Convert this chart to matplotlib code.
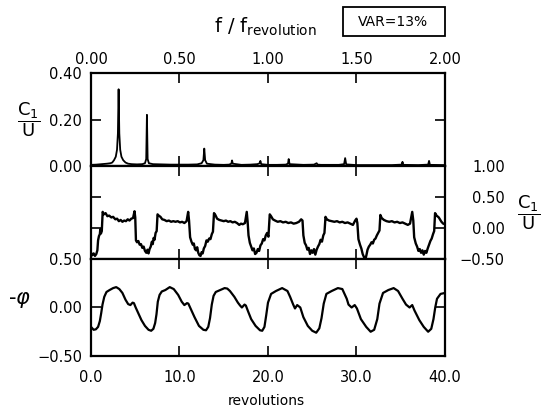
import matplotlib
matplotlib.use("Agg")
import matplotlib.pyplot as plt
from matplotlib.ticker import FixedLocator, FuncFormatter
from matplotlib.patches import Rectangle

# ---------------- data ----------------
# spectrum of C1/U versus f/f_revolution
spec_f = [0.00, 0.03, 0.06, 0.09, 0.11, 0.12, 0.13, 0.14, 0.147, 0.152, 0.156,
          0.160, 0.165, 0.172, 0.182, 0.195, 0.21, 0.23, 0.26, 0.29, 0.305, 0.312,
          0.316, 0.320, 0.327, 0.35, 0.40, 0.45, 0.50, 0.55, 0.60, 0.625, 0.635,
          0.640, 0.645, 0.655, 0.70, 0.75, 0.78, 0.793, 0.797, 0.801, 0.85, 0.90,
          0.94, 0.953, 0.957, 0.962, 1.00, 1.05, 1.10, 1.113, 1.117, 1.122, 1.20,
          1.26, 1.275, 1.280, 1.30, 1.40, 1.43, 1.436, 1.442, 1.50, 1.60, 1.70,
          1.755, 1.760, 1.765, 1.85, 1.905, 1.910, 1.915, 2.00]
spec_amp = [0.005, 0.006, 0.008, 0.010, 0.012, 0.015, 0.025, 0.040, 0.070, 0.140, 0.330,
            0.140, 0.070, 0.040, 0.025, 0.015, 0.010, 0.008, 0.007, 0.008, 0.012, 0.030,
            0.220, 0.030, 0.012, 0.008, 0.007, 0.006, 0.006, 0.006, 0.007, 0.012, 0.025,
            0.075, 0.025, 0.010, 0.006, 0.005, 0.006, 0.010, 0.024, 0.010, 0.005, 0.006,
            0.008, 0.012, 0.022, 0.008, 0.005, 0.005, 0.006, 0.010, 0.030, 0.008, 0.005,
            0.006, 0.012, 0.006, 0.005, 0.005, 0.008, 0.034, 0.007, 0.004, 0.004, 0.004,
            0.006, 0.018, 0.005, 0.004, 0.006, 0.022, 0.005, 0.004]

# C1/U time signal versus revolutions
mid_t = [0.00, 0.15, 0.30, 0.45, 0.60, 0.72, 0.80, 0.90, 1.00, 1.05, 1.12, 1.22, 1.32,
         1.45, 1.65, 1.85, 2.05, 2.30, 2.50, 2.75, 2.95, 3.15, 3.35, 3.55, 3.75, 3.95,
         4.15, 4.35, 4.55, 4.75, 4.92, 5.00, 5.08,
         5.20, 5.35, 5.50, 5.65, 5.80, 5.95, 6.10, 6.25, 6.38, 6.50, 6.62, 6.75, 6.88,
         6.98, 7.08, 7.18, 7.30, 7.42, 7.52,
         7.65, 7.85, 8.05, 8.30, 8.55, 8.80, 9.05, 9.30, 9.55, 9.80, 10.05, 10.30, 10.55,
         10.80, 10.98, 11.08, 11.20,
         11.35, 11.50, 11.62, 11.75, 11.88, 12.00, 12.12, 12.25, 12.38, 12.50, 12.62,
         12.75, 12.90, 13.05, 13.20, 13.35, 13.50, 13.65, 13.78, 13.90,
         14.05, 14.25, 14.50, 14.75, 15.00, 15.25, 15.50, 15.75, 16.00, 16.25, 16.50,
         16.75, 16.95, 17.15, 17.40, 17.60, 17.70, 17.80,
         17.95, 18.10, 18.25, 18.40, 18.55, 18.70, 18.85, 19.00, 19.15, 19.30, 19.45,
         19.60, 19.75, 19.90, 20.05, 20.20,
         20.35, 20.55, 20.80, 21.10, 21.40, 21.70, 22.00, 22.30, 22.60, 22.90, 23.20,
         23.50, 23.75, 23.90, 24.00,
         24.15, 24.30, 24.45, 24.60, 24.75, 24.90, 25.05, 25.20, 25.35, 25.50, 25.65,
         25.80, 25.95, 26.10, 26.25, 26.38, 26.50,
         26.65, 26.90, 27.20, 27.50, 27.80, 28.10, 28.40, 28.70, 29.00, 29.30, 29.60,
         29.85, 30.00, 30.10, 30.22,
         30.40, 30.55, 30.70, 30.85, 31.00, 31.12, 31.25, 31.40, 31.55, 31.70, 31.85,
         32.00, 32.15, 32.30, 32.45, 32.60, 32.70,
         32.85, 33.10, 33.40, 33.70, 34.00, 34.30, 34.60, 34.90, 35.20, 35.50, 35.80,
         36.05, 36.30, 36.42, 36.52,
         36.70, 36.85, 37.00, 37.15, 37.30, 37.45, 37.60, 37.75, 37.90, 38.05, 38.20,
         38.35, 38.50, 38.65, 38.78, 38.88,
         39.05, 39.30, 39.60, 39.80, 40.00]
mid_v = [-0.40, -0.44, -0.41, -0.45, -0.42, -0.36, -0.20, -0.13, -0.10, -0.02, -0.09, -0.05, 0.26,
         0.22, 0.24, 0.19, 0.20, 0.17, 0.18, 0.14, 0.15, 0.11, 0.13, 0.10, 0.12, 0.11,
         0.14, 0.12, 0.15, 0.16, 0.27, 0.17, -0.20,
         -0.23, -0.21, -0.27, -0.26, -0.32, -0.30, -0.37, -0.40, -0.35, -0.41, -0.34, -0.30, -0.22,
         -0.26, -0.16, -0.19, -0.08, -0.05, 0.22,
         0.20, 0.18, 0.14, 0.13, 0.11, 0.12, 0.10, 0.11, 0.10, 0.11, 0.09, 0.10, 0.08,
         0.11, 0.26, 0.12, -0.15,
         -0.22, -0.27, -0.25, -0.34, -0.36, -0.31, -0.40, -0.44, -0.45, -0.39, -0.41,
         -0.33, -0.29, -0.20, -0.22, -0.17, -0.18, -0.10, -0.06, 0.24,
         0.21, 0.15, 0.13, 0.12, 0.11, 0.12, 0.10, 0.11, 0.09, 0.10, 0.08,
         0.05, 0.07, 0.06, 0.08, 0.26, 0.10, -0.12,
         -0.24, -0.30, -0.36, -0.33, -0.42, -0.40, -0.34, -0.37, -0.28, -0.25, -0.18,
         -0.20, -0.12, -0.08, -0.14, 0.22,
         0.19, 0.14, 0.12, 0.10, 0.11, 0.09, 0.10, 0.08, 0.09, 0.07, 0.08,
         0.10, 0.14, 0.12, -0.12,
         -0.24, -0.28, -0.35, -0.32, -0.42, -0.36, -0.40, -0.34, -0.43, -0.35, -0.30,
         -0.26, -0.19, -0.22, -0.12, -0.08, 0.18,
         0.14, 0.12, 0.11, 0.10, 0.11, 0.09, 0.10, 0.08, 0.09, 0.07, 0.05,
         0.12, 0.15, 0.08, -0.18,
         -0.27, -0.33, -0.42, -0.47, -0.51, -0.44, -0.35, -0.30, -0.27, -0.23, -0.25,
         -0.19, -0.17, -0.12, -0.08, -0.04, 0.21,
         0.16, 0.13, 0.11, 0.10, 0.11, 0.09, 0.10, 0.08, 0.09, 0.07, 0.05,
         0.07, 0.26, 0.12, -0.15,
         -0.25, -0.30, -0.37, -0.34, -0.40, -0.36, -0.43, -0.37, -0.40, -0.33, -0.27,
         -0.21, -0.17, -0.10, -0.05, 0.24,
         0.20, 0.17, 0.10, 0.07, 0.06]

# -phi time signal versus revolutions
phi_t = [0.0, 0.3, 0.55, 0.8, 1.0, 1.15, 1.3, 1.5, 1.75, 2.1, 2.5, 2.85, 3.2, 3.55, 3.9,
         4.2, 4.45, 4.7, 4.85, 5.05, 5.35, 5.7, 6.1, 6.5, 6.8, 7.05, 7.25, 7.4, 7.55,
         7.75, 8.0, 8.4, 8.9, 9.35, 9.85, 10.25, 10.55, 10.85, 11.0, 11.25, 11.7, 12.2,
         12.7, 13.0, 13.25, 13.45, 13.65, 13.85, 14.1, 14.6, 15.1, 15.4, 15.7, 16.2,
         16.6, 16.85, 17.05, 17.35, 17.5, 17.75, 18.1, 18.6, 19.1, 19.35, 19.6, 19.8,
         20.0, 20.35, 20.9, 21.6, 22.2, 22.5, 22.85, 23.05, 23.3, 23.65, 24.0, 24.5,
         25.0, 25.45, 25.8, 26.05, 26.3, 26.6, 27.2, 27.9, 28.4, 28.9, 29.1, 29.45,
         29.8, 30.05, 30.5, 31.1, 31.6, 32.0, 32.35, 32.6, 33.0, 33.6, 34.2, 34.7,
         35.2, 35.6, 36.0, 36.3, 36.55, 37.1, 37.6, 38.1, 38.45, 38.7, 38.9, 39.1,
         39.5, 40.0]
phi_v = [-0.20, -0.23, -0.225, -0.20, -0.14, -0.06, 0.03, 0.11, 0.16, 0.18, 0.20, 0.21,
         0.19, 0.15, 0.08, 0.035, 0.025, 0.05, 0.045, 0.0, -0.06, -0.13, -0.19, -0.23,
         -0.24, -0.22, -0.16, -0.07, 0.06, 0.13, 0.165, 0.18, 0.21, 0.19, 0.13, 0.06,
         0.025, 0.045, 0.04, -0.01, -0.10, -0.19, -0.23, -0.235, -0.20, -0.11, 0.03,
         0.12, 0.16, 0.18, 0.20, 0.195, 0.17, 0.11, 0.05, 0.02, 0.0, 0.03, 0.02, -0.04,
         -0.12, -0.19, -0.235, -0.24, -0.20, -0.08, 0.05, 0.14, 0.17, 0.20, 0.17, 0.11,
         0.03, -0.01, 0.025, 0.0, -0.10, -0.19, -0.24, -0.26, -0.215, -0.11, 0.04, 0.14,
         0.17, 0.20, 0.19, 0.09, 0.03, 0.0, 0.025, -0.01, -0.12, -0.20, -0.25, -0.23,
         -0.12, 0.04, 0.15, 0.18, 0.20, 0.17, 0.09, 0.03, 0.0, 0.025, -0.03, -0.13,
         -0.20, -0.25, -0.22, -0.12, 0.0, 0.09, 0.14, 0.15]

freq_ticks = [0.0, 0.5, 1.0, 1.5, 2.0]
spec_yticks = [0.0, 0.2, 0.4]
mid_yticks = [-0.5, 0.0, 0.5, 1.0]
phi_yticks = [-0.5, 0.0, 0.5]
rev_ticks = [0.0, 10.0, 20.0, 30.0, 40.0]

# ---------------- figure ----------------
plt.rcParams['font.family'] = ['DejaVu Sans']
plt.rcParams['mathtext.fontset'] = 'dejavusans'
FS = 10.5

fig = plt.figure(figsize=(5.41, 4.08), dpi=100)
L, W = 0.1682, 0.6543
ax1 = fig.add_axes([L, 0.5931, W, 0.2280])
ax2 = fig.add_axes([L, 0.3652, W, 0.2280])
ax3 = fig.add_axes([L, 0.1275, W, 0.2377])

def fmt(nd):
    return FuncFormatter(lambda v, p: (f"{v:.{nd}f}").replace('-', '\u2212'))

for ax in (ax1, ax2, ax3):
    for s in ax.spines.values():
        s.set_linewidth(1.6)
    ax.tick_params(direction='in', length=7, width=1.2, labelsize=FS,
                   top=True, bottom=True, left=True, right=True)

# top: spectrum
ax1.plot(spec_f, spec_amp, color='black', lw=1.3)
ax1.set_xlim(0, 2)
ax1.set_ylim(0, 0.4)
ax1.xaxis.set_major_locator(FixedLocator(freq_ticks))
ax1.xaxis.set_major_formatter(fmt(2))
ax1.yaxis.set_major_locator(FixedLocator(spec_yticks))
ax1.yaxis.set_major_formatter(fmt(2))
ax1.tick_params(axis='x', labeltop=True, labelbottom=False, pad=4)
ax1.tick_params(axis='y', pad=6.5)

# middle: C1/U time signal
ax2.plot(mid_t, mid_v, color='black', lw=1.7)
ax2.set_xlim(0, 40)
ax2.set_ylim(-0.5, 1.0)
ax2.xaxis.set_major_locator(FixedLocator(rev_ticks))
ax2.tick_params(axis='x', labelbottom=False)
ax2.yaxis.set_major_locator(FixedLocator(mid_yticks))
ax2.yaxis.set_major_formatter(fmt(2))
ax2.tick_params(axis='y', labelleft=False, labelright=True, pad=43)
for tk in ax2.yaxis.get_major_ticks():
    tk.label2.set_horizontalalignment('right')

# bottom: -phi time signal
ax3.plot(phi_t, phi_v, color='black', lw=1.6)
ax3.set_xlim(0, 40)
ax3.set_ylim(-0.5, 0.5)
ax3.xaxis.set_major_locator(FixedLocator(rev_ticks))
ax3.xaxis.set_major_formatter(fmt(1))
ax3.yaxis.set_major_locator(FixedLocator(phi_yticks))
ax3.yaxis.set_major_formatter(fmt(2))
ax3.tick_params(axis='x', pad=10)
ax3.tick_params(axis='y', pad=6.5)

# labels
fig.text(0.491, 1 - 27 / 408, r"f / f$_{\mathrm{revolution}}$", fontsize=14,
         ha='center', va='center')
fig.text(0.052, 1 - 120 / 408, r"$\dfrac{\mathrm{C}_1}{\mathrm{U}}$", fontsize=13,
         ha='center', va='center')
fig.text(0.978, 1 - 213 / 408, r"$\dfrac{\mathrm{C}_1}{\mathrm{U}}$", fontsize=13,
         ha='center', va='center')
fig.text(0.037, 1 - 300 / 408, r"-$\varphi$", fontsize=15, ha='center', va='center')
fig.text(0.4917, 1 - 401 / 408, "revolutions", fontsize=10, ha='center', va='center')

# VAR box
fig.patches.append(Rectangle((343 / 541, 1 - 36 / 408), 102 / 541, 29 / 408,
                             transform=fig.transFigure, fill=False, lw=1.3,
                             edgecolor='black'))
fig.text(393 / 541, 1 - 22 / 408, "VAR=13%", fontsize=10, ha='center', va='center')

fig.savefig("out.png", dpi=100)
